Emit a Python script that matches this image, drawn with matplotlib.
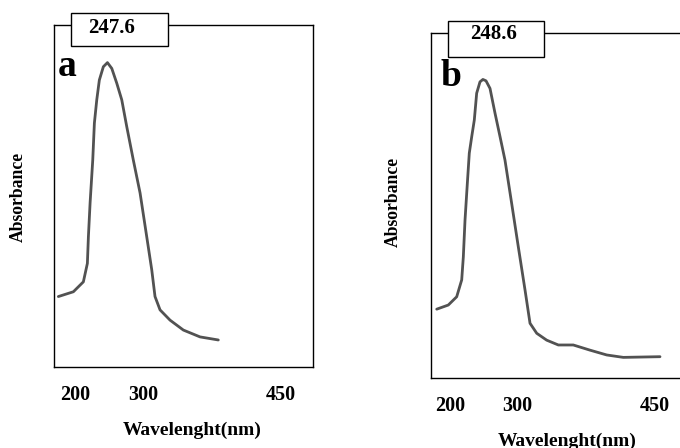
import matplotlib
matplotlib.use("Agg")
import matplotlib.pyplot as plt
from matplotlib.patches import Rectangle

plt.rcParams['font.family'] = ['Liberation Serif', 'DejaVu Serif']
plt.rcParams['font.weight'] = 'bold'

# spectrum a (peak 247.6 nm)
wl_a = [175.4, 197.5, 212.2, 218.1, 219.6, 222.1, 226.0, 228.4, 231.9, 235.7,
        241.6, 247.6, 254.0, 261.3, 268.7, 276.0, 285.7, 295.6, 305.4, 312.8,
        317.6, 325.0, 339.7, 359.3, 383.8, 410.7]
abs_a = [0.206, 0.220, 0.249, 0.303, 0.381, 0.480, 0.605, 0.713, 0.781, 0.839,
         0.878, 0.890, 0.873, 0.830, 0.781, 0.703, 0.605, 0.509, 0.381, 0.284,
         0.206, 0.167, 0.137, 0.108, 0.088, 0.079]

# spectrum b (peak 248.6 nm)
wl_b = [180.4, 197.5, 209.9, 217.3, 219.7, 222.2, 225.6, 228.5, 232.1, 235.9,
        239.4, 244.3, 248.6, 253.2, 259.1, 266.5, 273.9, 281.2, 291.1, 300.9,
        310.8, 318.2, 328.1, 342.8, 360.0, 382.1, 406.8, 431.5, 456.0, 510.2]
abs_b = [0.199, 0.211, 0.235, 0.284, 0.351, 0.458, 0.564, 0.652, 0.700, 0.748,
         0.826, 0.859, 0.866, 0.862, 0.840, 0.768, 0.700, 0.632, 0.506, 0.380,
         0.255, 0.158, 0.129, 0.109, 0.095, 0.095, 0.080, 0.066, 0.059, 0.061]

tick_pos = [200, 300, 502]
tick_lab = ['200', '300', '450']

W, H = 680, 448
fig = plt.figure(figsize=(6.8, 4.48), dpi=100)

def px(x0, y0, x1, y1):
    # pixel box -> figure fraction [left, bottom, width, height]
    return [x0 / W, 1 - y1 / H, (x1 - x0) / W, (y1 - y0) / H]

def panel(rect, wl, ab, xlim, letter, peak, box, txt_xy, letter_xy):
    ax = fig.add_axes(rect)
    ax.plot(wl, ab, color='#525252', lw=2.0, solid_capstyle='round',
            solid_joinstyle='round')
    ax.set_xlim(*xlim)
    ax.set_ylim(0, 1)
    ax.set_yticks([])
    ax.set_xticks(tick_pos, tick_lab)
    ax.tick_params(axis='x', length=0, pad=13, labelsize=14.5)
    for s in ax.spines.values():
        s.set_linewidth(1.0)
    fig.add_artist(Rectangle((box[0] / W, 1 - box[3] / H),
                             (box[2] - box[0]) / W, (box[3] - box[1]) / H,
                             transform=fig.transFigure, facecolor='white',
                             edgecolor='black', lw=1.0, zorder=5))
    fig.text(txt_xy[0] / W, 1 - txt_xy[1] / H, peak, ha='center', va='center',
             fontsize=15, fontweight='bold', zorder=6)
    fig.text(letter_xy[0] / W, 1 - letter_xy[1] / H, letter, ha='center',
             va='center', fontsize=27, fontweight='bold')
    return ax

ax_a = panel(px(54, 25, 313, 367), wl_a, abs_a, (169, 550), 'a', '247.6',
             (71, 13, 168, 46), (111.7, 28), (67.5, 66))
ax_b = panel(px(430.7, 33.3, 690, 377.7), wl_b, abs_b, (171.5, 554.5), 'b', '248.6',
             (448.3, 21, 544, 56.7), (493.3, 34), (450.5, 77))

fig.text(18 / W, 1 - 197 / H, 'Absorbance', rotation=90, ha='center', va='center',
         fontsize=12.7, fontweight='bold')
fig.text(393 / W, 1 - 202 / H, 'Absorbance', rotation=90, ha='center', va='center',
         fontsize=12.7, fontweight='bold')
fig.text(191.7 / W, 1 - 430 / H, 'Wavelenght(nm)', ha='center', va='center',
         fontsize=14, fontweight='bold')
fig.text(566.7 / W, 1 - 441 / H, 'Wavelenght(nm)', ha='center', va='center',
         fontsize=14, fontweight='bold')

fig.savefig('out.png', dpi=100)
